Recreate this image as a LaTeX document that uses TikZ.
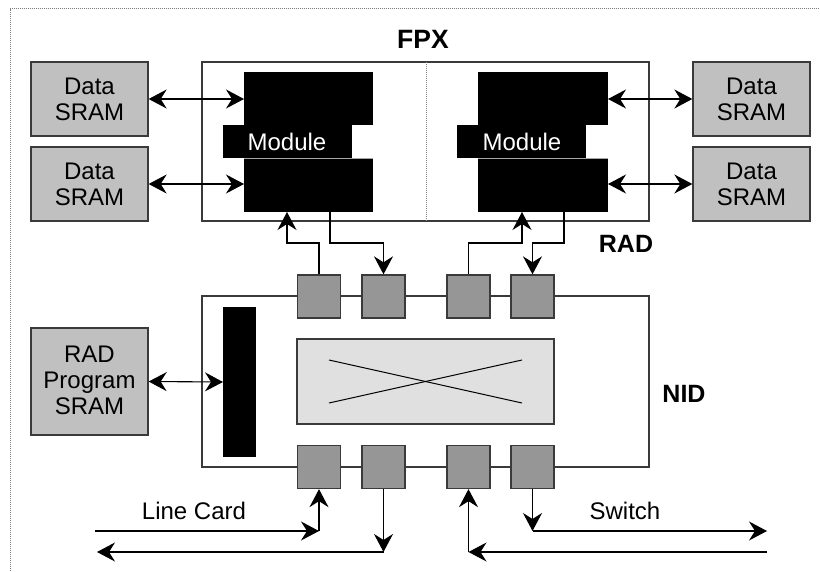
\documentclass[tikz,border=0pt]{standalone}
\usepackage{fontspec}
\setmainfont{Liberation Sans}
\usetikzlibrary{arrows.meta}
\definecolor{sramgray}{HTML}{C0C0C0}
\definecolor{portgray}{HTML}{969696}
\definecolor{xbargray}{HTML}{E0E0E0}
\definecolor{edgegray}{HTML}{3A3A3A}
\tikzset{
  box/.style={draw=edgegray, line width=1.3pt},
  sram/.style={box, fill=sramgray},
  port/.style={box, fill=portgray},
  blk/.style={fill=black},
  lbl/.style={font=\fontsize{24}{26}\selectfont, align=center, inner sep=0pt},
  title/.style={font=\fontsize{25}{28}\selectfont\bfseries, inner sep=0pt},
  wire/.style={draw=black, line width=1.1pt},
  arr/.style={wire, -{Stealth[length=18pt, width=19pt, inset=6pt]}},
  dbl/.style={wire, {Stealth[length=18pt, width=19pt, inset=6pt]}-{Stealth[length=18pt, width=19pt, inset=6pt]}},
}
\begin{document}
\begin{tikzpicture}[x=1pt, y=-1pt]
\useasboundingbox (0,0) rectangle (820,571);
% dotted frame (top and left edges)
\draw[gray, line width=0.8pt, dash pattern=on 1pt off 1pt] (10,571) -- (10,8.5) -- (820,8.5);

% FPX region
\node[title, font=\fontsize{26.5}{28}\selectfont\bfseries] (fpx) at (423,39) {FPX};
\draw[box] (202,62) rectangle (649,221);
\draw[gray, line width=0.8pt, dash pattern=on 1pt off 1pt] (426,62) -- (426,221);

% left module
\fill[blk] (244,72) rectangle (373,125);
\fill[blk] (223,125) rectangle (352,158);
\fill[blk] (244,158) rectangle (373,212);
\draw[gray!70, line width=0.5pt] (244,158) -- (373,158);
\node[lbl, text=white] (modA) at (287,142) {Module};
\coordinate (mAu) at (244,99);
\coordinate (mAd) at (244,184);
\coordinate (mAin) at (287,212);
\coordinate (mAout) at (330,212);

% right module
\fill[blk] (478,72) rectangle (608,125);
\fill[blk] (457,125) rectangle (586,158);
\fill[blk] (478,158) rectangle (608,212);
\draw[gray!70, line width=0.5pt] (478,158) -- (608,158);
\node[lbl, text=white] (modB) at (522,142) {Module};
\coordinate (mBu) at (608,99);
\coordinate (mBd) at (608,184);
\coordinate (mBin) at (522,212);
\coordinate (mBout) at (564,212);

% data SRAMs
\node[sram, lbl, minimum width=117pt, minimum height=74pt] (s1) at (89.5,99) {Data\\SRAM};
\node[sram, lbl, minimum width=117pt, minimum height=74pt] (s2) at (89.5,184) {Data\\SRAM};
\node[sram, lbl, minimum width=117pt, minimum height=74pt] (s3) at (751.5,99) {Data\\SRAM};
\node[sram, lbl, minimum width=117pt, minimum height=74pt] (s4) at (751.5,184) {Data\\SRAM};
\draw[dbl] (s1.east) -- (mAu);
\draw[dbl] (s2.east) -- (mAd);
\draw[dbl] (s3.west) -- (mBu);
\draw[dbl] (s4.west) -- (mBd);

\node[title] (rad) at (626,243.5) {RAD};

% NID region
\draw[box] (202,296) rectangle (649,467);
\fill[blk] (223,307) rectangle (256,457);
\coordinate (bar) at (223,382);
\node[box, fill=xbargray, minimum width=257pt, minimum height=85pt, inner sep=0pt] (xbar) at (425.5,381.5) {};
\draw[line width=1pt] (329,360) -- (522,403);
\draw[line width=1pt] (329,403) -- (522,360);
\node[title] (nid) at (684,394) {NID};

\node[sram, minimum width=117pt, minimum height=107pt] (prog) at (89.5,381.5) {};
\node[lbl] (progtxt) at (89.5,380.5) {RAD\\Program\\SRAM};
\draw[dbl] (prog.east) -- (bar);

% ports on the NID edges
\foreach \n/\x in {1/319, 2/383.5, 3/468.5, 4/532.5} {
  \node[port, minimum width=43pt, minimum height=43pt, inner sep=0pt] (t\n) at (\x,296.5) {};
  \node[port, minimum width=43pt, minimum height=43pt, inner sep=0pt] (b\n) at (\x,467) {};
}

% links between NID and modules
\draw[arr] (t1.north) -- (319,243) -- (287,243) -- (mAin);
\draw[arr] (mAout) -- (330,243) -- (383.5,243) -- (t2.north);
\draw[arr] (t3.north) -- (468.5,243) -- (522,243) -- (mBin);
\draw[arr] (mBout) -- (564,243) -- (532.5,243) -- (t4.north);

% line card links
\coordinate (lcIn) at (95,531);
\coordinate (lcInC) at (319,531);
\coordinate (lcOut) at (97,552);
\coordinate (lcOutC) at (383.5,552);
\draw[arr] (lcIn) -- (lcInC);
\draw[arr] (lcInC) -- (b1.south);
\draw[arr] (b2.south) -- (lcOutC);
\draw[arr] (lcOutC) -- (lcOut);
\node[lbl] (lc) at (194,511) {Line Card};

% switch links
\coordinate (swIn) at (767,552);
\coordinate (swInC) at (468.5,552);
\coordinate (swOut) at (767,531);
\coordinate (swOutC) at (532.5,531);
\draw[arr] (swIn) -- (swInC);
\draw[arr] (swInC) -- (b3.south);
\draw[arr] (b4.south) -- (swOutC);
\draw[arr] (swOutC) -- (swOut);
\node[lbl] (sw) at (625,510.5) {Switch};
\end{tikzpicture}
\end{document}
